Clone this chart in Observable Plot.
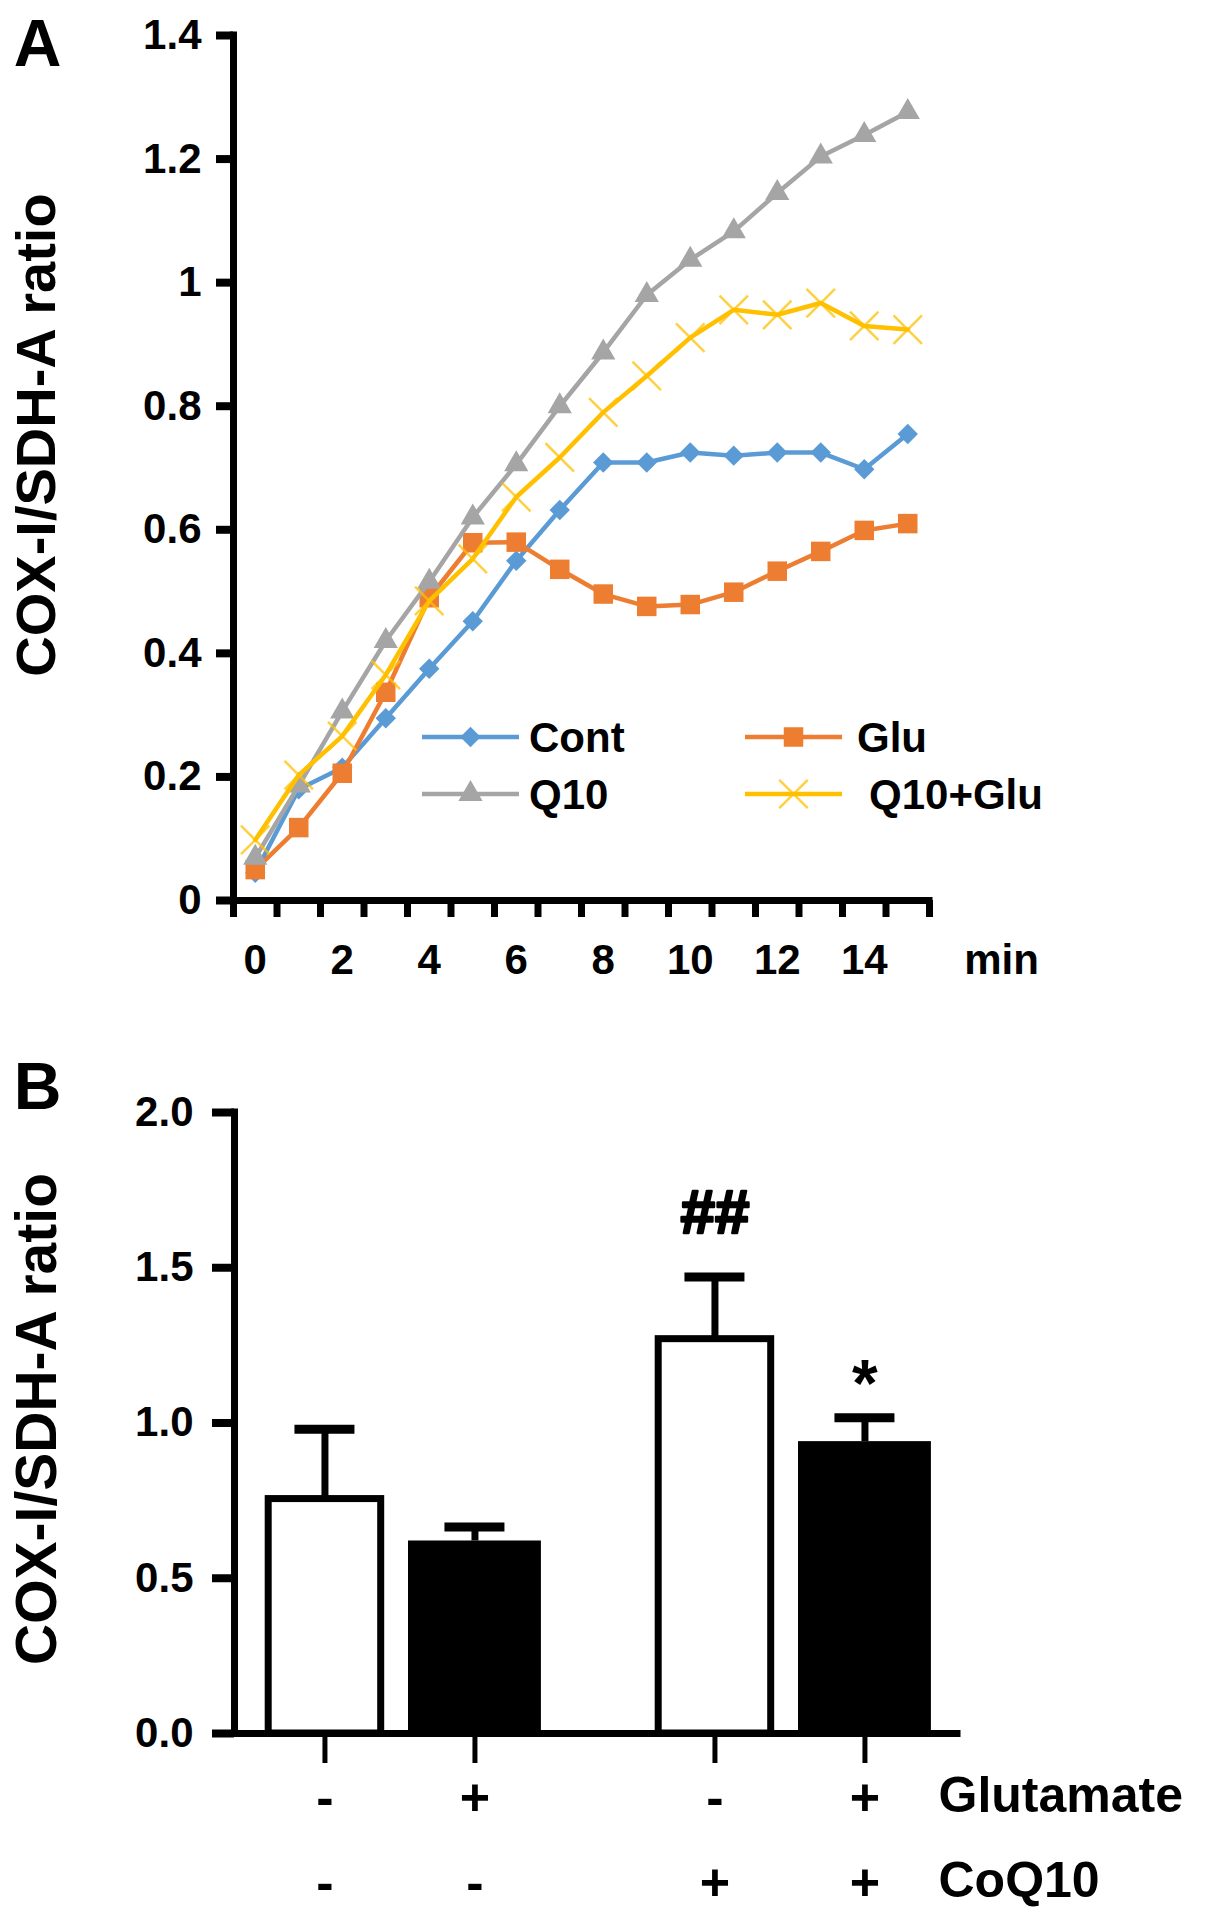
<!DOCTYPE html>
<html>
<head>
<meta charset="utf-8">
<script src="https://cdn.jsdelivr.net/npm/d3@7"></script>
<script src="https://cdn.jsdelivr.net/npm/@observablehq/plot@0.6"></script>
<style>
  html, body { margin: 0; padding: 0; background: #fff; }
  #wrap { position: relative; width: 1205px; height: 1916px; overflow: hidden; background: #fff; }
  #wrap > svg { position: absolute; left: 0; }
</style>
</head>
<body>
<div id="wrap"></div>
<script>
// ================= Panel A data =================
const minutes = [0, 1, 2, 3, 4, 5, 6, 7, 8, 9, 10, 11, 12, 13, 14, 15];
const seriesNames = ["Cont", "Glu", "Q10", "Q10+Glu"];
const cont   = [0.045, 0.18, 0.215, 0.295, 0.375, 0.452, 0.55, 0.632, 0.709, 0.709, 0.725, 0.72, 0.725, 0.725, 0.698, 0.755];
const glu    = [0.05, 0.118, 0.206, 0.337, 0.49, 0.579, 0.58, 0.536, 0.496, 0.476, 0.479, 0.499, 0.533, 0.565, 0.599, 0.61];
const q10    = [0.069, 0.186, 0.306, 0.42, 0.516, 0.62, 0.706, 0.80, 0.887, 0.98, 1.037, 1.083, 1.145, 1.204, 1.239, 1.276];
const q10glu = [0.098, 0.203, 0.266, 0.365, 0.485, 0.553, 0.653, 0.717, 0.79, 0.849, 0.911, 0.956, 0.948, 0.967, 0.93, 0.924];
const seriesColors = ["#5B9BD5", "#ED7D31", "#A5A5A5", "#FFC000"];
const xTickLabelsA = [0, 2, 4, 6, 8, 10, 12, 14];
const yTicksA = [0, 0.2, 0.4, 0.6, 0.8, 1, 1.2, 1.4];
const yTickLabelsA = ["0", "0.2", "0.4", "0.6", "0.8", "1", "1.2", "1.4"];
const xUnitA = "min";
const yLabel = "COX-I/SDH-A ratio";

// ================= Panel B data =================
const glutamate = ["-", "+", "-", "+"];
const coq10     = ["-", "-", "+", "+"];
const means     = [0.755, 0.62, 1.27, 0.94];
const sems      = [0.225, 0.045, 0.20, 0.077];
const signif    = ["", "", "##", "*"];
const yTicksB = [0, 0.5, 1, 1.5, 2];
const yTickLabelsB = ["0.0", "0.5", "1.0", "1.5", "2.0"];
const rowLabels = ["Glutamate", "CoQ10"];

// ================= layout / style constants =================
const FONT = "'Liberation Sans', Arial, Helvetica, sans-serif";
const AXIS_W = 7;
const GROUP_STEP = 2.6;   // spacing between the CoQ10 groups, in bar-slot units

// ---------- Panel A ----------
const seriesValues = [cont, glu, q10, q10glu];
const tidyA = seriesNames.flatMap((name, s) =>
  minutes.map((m, i) => ({series: name, minute: m, value: seriesValues[s][i]})));
const colorOf = Object.fromEntries(seriesNames.map((n, i) => [n, seriesColors[i]]));
const markerOf = {
  "Cont":    {symbol: "diamond2", r: 9.2, filled: true},
  "Glu":     {symbol: "square",   r: 11,  filled: true},
  "Q10":     {symbol: "triangle", r: 9,   filled: true},
  "Q10+Glu": {symbol: "times",    r: 13,  filled: false}
};
const minuteTicks = d3.range(minutes[0] - 0.5, minutes[minutes.length - 1] + 1, 1);
const labelA = new Map(yTicksA.map((t, i) => [t, yTickLabelsA[i]]));

const seriesMarks = seriesNames.flatMap(name => {
  const data = tidyA.filter(d => d.series === name);
  const m = markerOf[name];
  const c = colorOf[name];
  return [
    Plot.line(data, {x: "minute", y: "value", stroke: c, strokeWidth: 4.5, strokeLinejoin: "round"}),
    m.filled
      ? Plot.dot(data, {x: "minute", y: "value", symbol: m.symbol, r: m.r, fill: c, stroke: "none"})
      : Plot.dot(data, {x: "minute", y: "value", symbol: m.symbol, r: m.r, fill: "none", stroke: c, strokeWidth: 2.5, strokeOpacity: 0.75})
  ];
});

const plotA = Plot.plot({
  width: 1205,
  height: 1000,
  marginLeft: 233,
  marginRight: 276,
  marginTop: 35,
  marginBottom: 100,
  x: {domain: [minuteTicks[0], minuteTicks[minuteTicks.length - 1]], axis: null, label: null},
  y: {domain: [0, 1.4], axis: null, label: null},
  style: {fontFamily: FONT, fontWeight: "bold", color: "black", background: "white", overflow: "visible"},
  marks: [
    ...seriesMarks,
    // axis lines
    Plot.ruleY([0], {strokeWidth: AXIS_W, strokeLinecap: "square"}),
    Plot.ruleX([minuteTicks[0]], {strokeWidth: AXIS_W, strokeLinecap: "square"}),
    // x minor ticks (between categories)
    Plot.axisX({ticks: minuteTicks, anchor: "bottom", tickSize: 17, strokeWidth: 7, tickFormat: () => "", label: null}),
    // x tick labels
    Plot.axisX({ticks: xTickLabelsA, anchor: "bottom", tickSize: 0, tickPadding: 44, fontSize: 42, label: null}),
    // y ticks + labels
    Plot.axisY({ticks: yTicksA, anchor: "left", tickSize: 17, tickPadding: 15, strokeWidth: 8, fontSize: 42,
                tickFormat: d => labelA.get(d), label: null}),
    // unit label
    Plot.text([xUnitA], {frameAnchor: "bottom-right", dx: 72, dy: 44, lineAnchor: "top", textAnchor: "middle", fontSize: 42}),
    // y axis title
    Plot.text([yLabel], {frameAnchor: "left", rotate: -90, dx: -196, dy: -33, fontSize: 56, textAnchor: "middle", lineAnchor: "middle"}),
    // panel letter
    Plot.text(["A"], {frameAnchor: "top-left", dx: -196, dy: 9, fontSize: 66, textAnchor: "middle", lineAnchor: "middle"})
  ]
});
plotA.style.top = "0px";

// ---------- Panel B ----------
const bars = glutamate.map((g, i) => ({
  glutamate: g,
  coq10: coq10[i],
  mean: means[i],
  sem: sems[i],
  mark: signif[i],
  pos: (coq10[i] === "+" ? GROUP_STEP : 0) + (g === "+" ? 1 : 0)
}));
const labelB = new Map(yTicksB.map((t, i) => [t, yTickLabelsB[i]]));
const openBars = bars.filter(d => d.glutamate === "-");
const filledBars = bars.filter(d => d.glutamate === "+");
const HW_OPEN = 0.375, HW_FILLED = 0.443, CAP = 0.2;
const posMin = d3.min(bars, d => d.pos), posMax = d3.max(bars, d => d.pos);

const plotB = Plot.plot({
  width: 1205,
  height: 916,
  marginLeft: 234,
  marginRight: 248,
  marginTop: 112,
  marginBottom: 183,
  x: {domain: [posMin - 0.603, posMax + 0.617], axis: null, label: null},
  y: {domain: [0, 2], axis: null, label: null},
  style: {fontFamily: FONT, fontWeight: "bold", color: "black", background: "white", overflow: "visible"},
  marks: [
    // error bars
    Plot.ruleX(bars, {x: "pos", y1: "mean", y2: d => d.mean + d.sem, strokeWidth: 7}),
    Plot.ruleY(bars, {y: d => d.mean + d.sem, x1: d => d.pos - CAP, x2: d => d.pos + CAP, strokeWidth: 9}),
    // bars
    Plot.rectY(openBars, {x1: d => d.pos - HW_OPEN, x2: d => d.pos + HW_OPEN, y1: 0, y2: "mean", fill: "white", stroke: "black", strokeWidth: 7}),
    Plot.rectY(filledBars, {x1: d => d.pos - HW_FILLED, x2: d => d.pos + HW_FILLED, y1: 0, y2: "mean", fill: "black"}),
    // axis lines
    Plot.ruleY([0], {strokeWidth: AXIS_W, strokeLinecap: "square"}),
    Plot.ruleX([posMin - 0.603], {strokeWidth: AXIS_W, strokeLinecap: "square"}),
    // y ticks + labels
    Plot.axisY({ticks: yTicksB, anchor: "left", tickSize: 22, tickPadding: 19, strokeWidth: 8, fontSize: 42,
                tickFormat: d => labelB.get(d), label: null}),
    // x ticks at bars
    Plot.axisX({ticks: bars.map(d => d.pos), anchor: "bottom", tickSize: 30, strokeWidth: 5, tickFormat: () => "", label: null}),
    // significance marks
    Plot.text(bars.filter(d => d.mark === "##"), {x: "pos", y: d => d.mean + d.sem, text: "mark", dy: -64, fontSize: 62, lineAnchor: "middle", fill: "black", stroke: "black", strokeWidth: 2.5}),
    Plot.text(bars.filter(d => d.mark === "*"), {x: "pos", y: d => d.mean + d.sem, text: "mark", dy: -33, fontSize: 66, lineAnchor: "middle", fill: "black"}),
    // treatment rows
    Plot.text(bars, {x: "pos", text: "glutamate", frameAnchor: "bottom", dy: 65, fontSize: 52, lineAnchor: "middle"}),
    Plot.text(bars, {x: "pos", text: "coq10", frameAnchor: "bottom", dy: 150, fontSize: 52, lineAnchor: "middle"}),
    Plot.text([rowLabels[0]], {frameAnchor: "bottom-right", dx: -19, dy: 62, textAnchor: "start", lineAnchor: "middle", fontSize: 50}),
    Plot.text([rowLabels[1]], {frameAnchor: "bottom-right", dx: -19, dy: 147, textAnchor: "start", lineAnchor: "middle", fontSize: 50}),
    // y axis title
    Plot.text([yLabel], {frameAnchor: "left", rotate: -90, dx: -197, dy: -4, fontSize: 57, textAnchor: "middle", lineAnchor: "middle"}),
    // panel letter
    Plot.text(["B"], {frameAnchor: "top-left", dx: -197, dy: -25, fontSize: 66, textAnchor: "middle", lineAnchor: "middle"})
  ]
});
plotB.style.top = "1000px";

const wrap = document.getElementById("wrap");
wrap.appendChild(plotA);
wrap.appendChild(plotB);

// ---------- Legend for panel A (overlay) ----------
const legendLayout = [
  {name: "Cont",    x: 422, y: 737, textX: 529},
  {name: "Glu",     x: 745, y: 737, textX: 857},
  {name: "Q10",     x: 422, y: 794, textX: 529},
  {name: "Q10+Glu", x: 745, y: 794, textX: 869}
];
const symbolMap = {diamond2: d3.symbolDiamond2, square: d3.symbolSquare, triangle: d3.symbolTriangle, times: d3.symbolTimes};
const leg = d3.create("svg")
  .attr("width", 1205).attr("height", 1000)
  .style("position", "absolute").style("top", "0px").style("left", "0px")
  .style("font-family", FONT).style("font-weight", "bold");
for (const item of legendLayout) {
  const c = colorOf[item.name];
  const m = markerOf[item.name];
  const g = leg.append("g");
  g.append("line").attr("x1", item.x).attr("x2", item.x + 97).attr("y1", item.y).attr("y2", item.y)
    .attr("stroke", c).attr("stroke-width", 4.5);
  const p = g.append("path")
    .attr("d", d3.symbol(symbolMap[m.symbol], Math.PI * m.r * m.r)())
    .attr("transform", `translate(${item.x + 48.5},${item.y})`);
  if (m.filled) p.attr("fill", c);
  else p.attr("fill", "none").attr("stroke", c).attr("stroke-width", 2.5).attr("stroke-opacity", 0.75);
  g.append("text").attr("x", item.textX).attr("y", item.y).attr("dy", "0.35em")
    .attr("font-size", 42).attr("fill", "black").text(item.name);
}
wrap.appendChild(leg.node());
</script>
</body>
</html>
